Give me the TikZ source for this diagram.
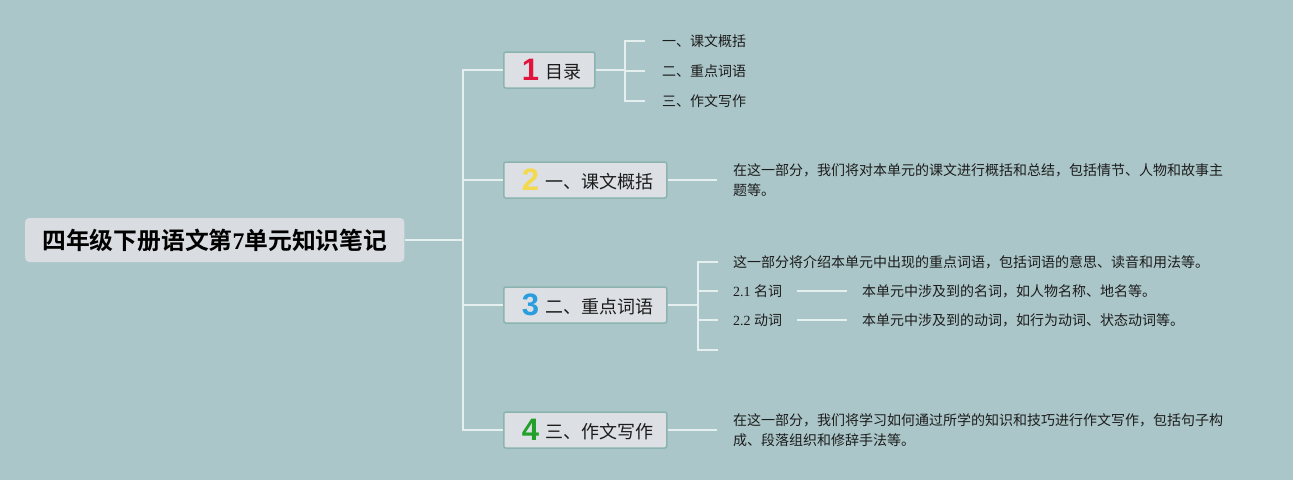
\documentclass[tikz,border=0pt]{standalone}
\usepackage{fontspec}
\setmainfont{Liberation Serif}
\newfontfamily\cjk{Noto Sans CJK SC}[BoldFont={* Bold}]
\newfontfamily\numfont{Liberation Sans}
\definecolor{bgcol}{HTML}{ABC6C9}
\definecolor{rootfill}{HTML}{D9DCE0}
\definecolor{boxfill}{HTML}{DCDFE3}
\definecolor{boxline}{HTML}{8CB4AF}
\definecolor{linkcol}{HTML}{E6EFF0}
\definecolor{textcol}{HTML}{1C1C1C}
\definecolor{numone}{HTML}{E0143C}
\definecolor{numtwo}{HTML}{F3D94B}
\definecolor{numthree}{HTML}{2A9DDE}
\definecolor{numfour}{HTML}{22A02A}
% number badge, then the topic text
\newcommand{\bnum}[3]{\hspace*{18pt}\makebox[24pt][l]{\numfont\bfseries\fontsize{31}{32}\selectfont\color{#1}#2}\raisebox{2.5pt}{#3}\hspace*{13pt}}

\begin{document}
\begin{tikzpicture}[x=1pt, y=-1pt,
  link/.style={draw=linkcol, line width=2pt},
  twig/.style={draw=linkcol, line width=1.5pt},
  rootbox/.style={fill=rootfill, rounded corners=4pt, anchor=west, minimum height=44pt,
    inner xsep=17pt, font=\cjk\bfseries\fontsize{23.8}{28}\selectfont, text=black},
  topic/.style={draw=boxline, line width=1.5pt, fill=boxfill, rounded corners=2pt, anchor=west,
    minimum height=36pt, inner xsep=0pt, inner ysep=0pt, font=\cjk\fontsize{18}{20}\selectfont, text=textcol},
  leaf/.style={anchor=west, inner xsep=15pt, inner ysep=2pt, font=\cjk\fontsize{14}{20}\selectfont,
    text=textcol, align=left},
]
  \fill[bgcol] (0,0) rectangle (1293,480);

  % root and main topics
  \node[rootbox] (root) at (25,240) {四年级下册语文第{\rmfamily\bfseries 7}单元知识笔记};
  \coordinate (trunk) at (463,240);
  \node[topic] (b1) at (503,70) {\bnum{numone}{1}{目录}};
  \node[topic] (b2) at (503,180) {\bnum{numtwo}{2}{一、课文概括}};
  \node[topic] (b3) at (503,305) {\bnum{numthree}{3}{二、重点词语}};
  \node[topic] (b4) at (503,430) {\bnum{numfour}{4}{三、作文写作}};
  \draw[link] (root.east) -- (trunk);
  \foreach \b in {b1,b2,b3,b4}
    \draw[link] (trunk) |- (\b.west);

  % 1: contents
  \coordinate (j1) at (625,70);
  \node[leaf, inner xsep=17pt] (l11) at (645,41) {一、课文概括};
  \node[leaf, inner xsep=17pt] (l12) at (645,71) {二、重点词语};
  \node[leaf, inner xsep=17pt] (l13) at (645,101) {三、作文写作};
  \draw[twig] (b1.east) -- (j1);
  \foreach \l in {l11,l12,l13}
    \draw[twig] (j1) |- (\l.west);

  % 2: summary
  \node[leaf, inner xsep=16pt] (t2) at (717,180)
    {在这一部分，我们将对本单元的课文进行概括和总结，包括情节、人物和故事主\\题等。};
  \draw[twig] (b2.east) -- (t2);

  % 3: key words
  \coordinate (j3) at (698,305);
  \node[leaf] (l31) at (718,262) {这一部分将介绍本单元中出现的重点词语，包括词语的意思、读音和用法等。};
  \node[leaf] (l32) at (718,291) {{\rmfamily 2.1 }名词};
  \node[leaf] (l33) at (718,320) {{\rmfamily 2.2 }动词};
  \coordinate (l34) at (718,350);
  \node[leaf] (d32) at (847,291) {本单元中涉及到的名词，如人物名称、地名等。};
  \node[leaf] (d33) at (847,320) {本单元中涉及到的动词，如行为动词、状态动词等。};
  \draw[link] (b3.east) -- (j3);
  \foreach \l in {l31,l32,l33,l34}
    \draw[twig] (j3) |- (\l.west);
  \draw[twig] (l32) -- (d32);
  \draw[twig] (l33) -- (d33);

  % 4: writing
  \node[leaf, inner xsep=16pt] (t4) at (717,430)
    {在这一部分，我们将学习如何通过所学的知识和技巧进行作文写作，包括句子构\\成、段落组织和修辞手法等。};
  \draw[twig] (b4.east) -- (t4);
\end{tikzpicture}
\end{document}
